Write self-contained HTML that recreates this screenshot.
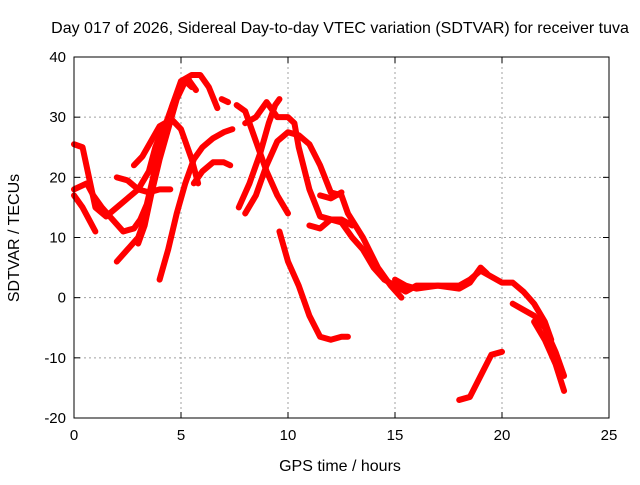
<!DOCTYPE html>
<html><head><meta charset="utf-8"><style>
body{margin:0;background:#fff}
svg text{font-family:"Liberation Sans",sans-serif;font-size:15px;fill:#000}
svg text.big{font-size:16px}
</style></head><body>
<svg id="chart" width="640" height="480" xmlns="http://www.w3.org/2000/svg">
<rect width="640" height="480" fill="#fff"/>
<text class="big" x="340" y="33" text-anchor="middle">Day 017 of 2026, Sidereal Day-to-day VTEC variation (SDTVAR) for receiver tuva</text>
<text class="big" x="340" y="471" text-anchor="middle">GPS time / hours</text>
<text class="big" transform="translate(19,238) rotate(-90)" text-anchor="middle">SDTVAR / TECUs</text>
<g id="grid"></g><g id="series"></g><g id="axes"></g>
</svg>
<script>
const xTicks=[0,5,10,15,20,25];
const yTicks=[-20,-10,0,10,20,30,40];
const tracks=[
[[0,25.5],[0.4,25],[0.7,20],[1,15],[1.5,13.5],[2,15],[2.5,16.5],[3,18],[3.5,21],[3.8,25],[4.2,28.5],[4.6,29.5],[5,28],[5.5,23],[5.8,19]],
[[0,18],[0.6,19],[0.9,17],[1.3,15],[1.8,13],[2.3,11],[2.8,11.5],[3.1,13],[3.4,15.5],[3.7,20],[4.1,26],[4.6,32],[5,35.5],[5.3,36.5],[5.7,34.5]],
[[0,17],[0.4,15],[0.7,13],[1,11]],
[[2,20],[2.5,19.5],[3,18],[3.5,17.5],[4,18],[4.5,18]],
[[2,6],[2.5,8],[3,10],[3.4,14],[3.8,22],[4.2,28],[4.6,32],[5,36],[5.5,37],[5.9,37],[6.3,35],[6.7,31.5]],
[[3,9],[3.3,12],[3.6,17],[4,23],[4.4,28],[4.8,33],[5.2,36],[5.5,35]],
[[2.8,22],[3.2,23.5],[3.6,26],[4,28.5],[4.5,29.5]],
[[4,3],[4.4,8],[4.8,14],[5.2,19],[5.6,23],[6,25],[6.5,26.5],[7,27.5],[7.4,28]],
[[5.6,19],[6,21],[6.5,22.5],[7,22.5],[7.3,22]],
[[6.9,33],[7.2,32.5]],
[[7.6,32],[8,31],[8.5,26],[9,21],[9.5,17],[10,14]],
[[7.7,15],[8.2,19],[8.7,24],[9.1,29],[9.4,32],[9.6,33]],
[[8,14],[8.5,17],[9,22],[9.5,26],[10,27.5],[10.5,27],[11,25.5],[11.5,22],[12,17.5],[12.5,17],[12.8,14],[13.5,10],[14.2,5],[14.8,2],[15.3,0]],
[[8,29],[8.5,30],[9,32.5],[9.5,30],[10,30],[10.3,29],[10.5,25],[11,18],[11.5,13.5],[12,13],[12.5,13],[13,12]],
[[9.6,11],[10,6],[10.5,2],[11,-3],[11.5,-6.5],[12,-7],[12.5,-6.5],[12.8,-6.5]],
[[11.5,17],[12,16.5],[12.5,17.5]],
[[11,12],[11.5,11.5],[12,13],[12.5,12.5],[13,10],[13.5,8],[14,5],[14.5,3],[15,2],[15.5,1],[16,2],[17,2],[18,2],[18.5,3],[19,4.5],[19.5,3.5],[20,2.5],[20.5,2.5],[21,1],[21.5,-1],[22,-4],[22.3,-7]],
[[15,3],[15.5,2],[16,1.5],[17,2],[18,1.5],[18.5,2.5],[19,5],[19.3,4]],
[[20.5,-1],[21,-2],[21.5,-3],[22,-5],[22.5,-9],[22.9,-13]],
[[21.5,-4],[22,-7],[22.5,-11],[22.9,-15.5]],
[[18,-17],[18.5,-16.5],[19,-13],[19.5,-9.5],[20,-9]]
];
const L=74,R=609,T=57,B=418;
const xs=v=>L+(v-0)/25*(R-L);
const ys=v=>B-(v+20)/60*(B-T);
const NS="http://www.w3.org/2000/svg";
const grid=document.getElementById('grid'),axes=document.getElementById('axes'),ser=document.getElementById('series');
function mk(tag,attrs,parent){const e=document.createElementNS(NS,tag);for(const k in attrs)e.setAttribute(k,attrs[k]);parent.appendChild(e);return e;}
xTicks.forEach(t=>{
  const x=xs(t);
  if(t>0&&t<25){const g=mk('line',{x1:x,x2:x,y1:T,y2:B,stroke:'#a0a0a0','stroke-dasharray':'2,3'},grid);
  
  }
  mk('line',{x1:x,x2:x,y1:B,y2:B-6,stroke:'#000'},axes);
  mk('line',{x1:x,x2:x,y1:T,y2:T+6,stroke:'#000'},axes);
  const tx=mk('text',{x:x,y:B+22,'text-anchor':'middle'},axes);tx.textContent=t;
  
  
});
yTicks.forEach(t=>{
  const y=ys(t);
  if(t>-20&&t<40){const g=mk('line',{x1:L,x2:R,y1:y,y2:y,stroke:'#a0a0a0','stroke-dasharray':'2,3'},grid);
  
  }
  mk('line',{x1:L,x2:L+6,y1:y,y2:y,stroke:'#000'},axes);
  mk('line',{x1:R,x2:R-6,y1:y,y2:y,stroke:'#000'},axes);
  const tx=mk('text',{x:L-8,y:y+5,'text-anchor':'end'},axes);tx.textContent=t;
  
  
});
const fr=mk('rect',{x:L,y:T,width:R-L,height:B-T,fill:'none',stroke:'#000'},axes);


tracks.forEach(tr=>{
  const p=mk('polyline',{points:tr.map(d=>xs(d[0])+','+ys(d[1])).join(' '),fill:'none',stroke:'#ff0000','stroke-width':6,'stroke-linejoin':'round','stroke-linecap':'round'},ser);
  
  
});
</script>
</body></html>
